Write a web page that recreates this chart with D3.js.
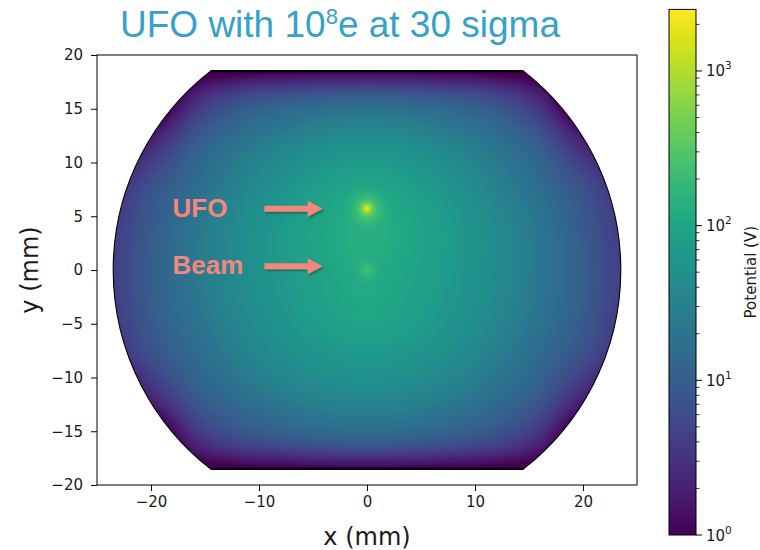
<!DOCTYPE html>
<html>
<head>
<meta charset="utf-8">
<script src="https://cdn.jsdelivr.net/npm/d3@7"></script>
<style>
  body { margin: 0; background: #fff; }
  svg { display: block; }
</style>
</head>
<body>
<svg id="chart" width="760" height="550"></svg>
<script>
// ---- data -------------------------------------------------------------
// Sample grid of the electric potential (V) inside the beam pipe, in mm.
const gridX = [-24, -20, -16, -12, -8, -4, 0, 4, 8, 12, 16, 20, 24];
const gridY = [20, 16, 12, 8, 4, 0, -4, -8, -12, -16, -20];
const potentialGrid = [
  [0.3, 0.3, 0.3, 0.3, 0.3, 0.3, 0.3, 0.3, 0.3, 0.3, 0.3, 0.3, 0.3],
  [0.3, 0.3, 2.2, 5.5, 8, 10, 11, 10, 8, 5.5, 2.2, 0.3, 0.3],
  [0.5, 2.0, 8.5, 18, 29, 41, 47, 41, 29, 18, 8.5, 2.0, 0.5],
  [2.4, 6.5, 15, 30, 52, 78, 98, 78, 52, 30, 15, 6.5, 2.4],
  [3.6, 8.8, 21, 40, 68, 102, 135, 102, 68, 40, 21, 8.8, 3.6],
  [4, 9.8, 22, 41, 67, 95, 120, 95, 67, 41, 22, 9.8, 4],
  [3.6, 9.1, 20, 37, 58, 84, 102, 84, 58, 37, 20, 9.1, 3.6],
  [2.4, 6.5, 14, 27, 43, 59, 68, 59, 43, 27, 14, 6.5, 2.4],
  [0.5, 2.0, 8, 15.5, 24, 32, 35, 32, 24, 15.5, 8, 2.0, 0.5],
  [0.3, 0.3, 2.2, 5, 7, 8.8, 9.4, 8.8, 7, 5, 2.2, 0.3, 0.3],
  [0.3, 0.3, 0.3, 0.3, 0.3, 0.3, 0.3, 0.3, 0.3, 0.3, 0.3, 0.3, 0.3]
];

// Point-like charges: centre (mm) and extra potential vs radius (mm -> V)
const sourceNames = ["UFO", "Beam"];
const sourceX = [0, 0];
const sourceY = [5.7, 0];
const sourceProfileR = [[0, 0.25, 0.5, 0.9, 1.5, 2.2], [0, 0.4, 0.8, 1.3]];
const sourceProfileV = [[2400, 800, 300, 100, 30, 0], [110, 60, 25, 0]];

// Chamber geometry (mm)
const chamberRadius = 23.5;
const chamberHalfHeight = 18.5;

// Axes / colour bar
const xTicks = [-20, -10, 0, 10, 20];
const yTicks = [-20, -15, -10, -5, 0, 5, 10, 15, 20];
const cbMajor = [1, 10, 100, 1000];
const cbMinor = [2,3,4,5,6,7,8,9,20,30,40,50,60,70,80,90,200,300,400,500,600,700,800,900,2000];
const vMin = 1, vMax = 2500;

// Annotations: arrow y (mm), arrow start/end x (mm)
const annotLabels = ["UFO", "Beam"];
const annotY = [5.7, 0.35];
const annotX0 = -9.5, annotX1 = -4.1, annotTextX = -18.0;

// ---- scales -----------------------------------------------------------
const svg = d3.select("#chart");
const x = d3.scaleLinear().domain([-25, 25]).range([97, 637]);
const y = d3.scaleLinear().domain([-20, 20]).range([485, 55]);
const color = d3.scaleSequentialLog(d3.interpolateViridis).domain([vMin, vMax]).clamp(true);

// ---- heat map ---------------------------------------------------------
const logGrid = potentialGrid.map(r => r.map(v => Math.log10(v)));
function cr(p0, p1, p2, p3, t) {
  return p1 + 0.5 * t * (p2 - p0 + t * (2 * p0 - 5 * p1 + 4 * p2 - p3 + t * (3 * (p1 - p2) + p3 - p0)));
}
const nx = gridX.length, ny = gridY.length;
const dxg = gridX[1] - gridX[0], dyg = gridY[0] - gridY[1];
function gv(j, i) {
  j = Math.max(0, Math.min(ny - 1, j));
  i = Math.max(0, Math.min(nx - 1, i));
  return logGrid[j][i];
}
function sampleLog(mx, my) {
  const gx = (mx - gridX[0]) / dxg, gy = (gridY[0] - my) / dyg;
  const i = Math.floor(gx), j = Math.floor(gy);
  const tx = gx - i, ty = gy - j;
  const rows = [];
  for (let k = -1; k <= 2; k++) {
    rows.push(cr(gv(j + k, i - 1), gv(j + k, i), gv(j + k, i + 1), gv(j + k, i + 2), tx));
  }
  return cr(rows[0], rows[1], rows[2], rows[3], ty);
}
const profiles = sourceNames.map((n, k) =>
  d3.scaleLinear().domain(sourceProfileR[k]).range(sourceProfileV[k]).clamp(true));

const logMin = Math.log10(vMin), logMax = Math.log10(vMax);
const lut = d3.range(256).map(k => d3.rgb(color(Math.pow(10, logMin + (k / 255) * (logMax - logMin)))));

const px0 = Math.round(x(-25)), px1 = Math.round(x(25));
const py0 = Math.round(y(20)), py1 = Math.round(y(-20));
const cw = px1 - px0, ch = py1 - py0;
const canvas = document.createElement("canvas");
canvas.width = cw; canvas.height = ch;
const ctx = canvas.getContext("2d");
const img = ctx.createImageData(cw, ch);
for (let r = 0; r < ch; r++) {
  const my = y.invert(py0 + r + 0.5);
  for (let c = 0; c < cw; c++) {
    const mx = x.invert(px0 + c + 0.5);
    let v = Math.pow(10, sampleLog(mx, my));
    for (let k = 0; k < sourceNames.length; k++) {
      v += profiles[k](Math.hypot(mx - sourceX[k], my - sourceY[k]));
    }
    let t = (Math.log10(v) - logMin) / (logMax - logMin);
    t = Math.max(0, Math.min(1, t));
    const col = lut[Math.round(t * 255)];
    const o = (r * cw + c) * 4;
    img.data[o] = col.r; img.data[o + 1] = col.g; img.data[o + 2] = col.b; img.data[o + 3] = 255;
  }
}
ctx.putImageData(img, 0, 0);

const defs = svg.append("defs");

// chamber outline: flat top/bottom joined by circular arcs
const xc = Math.sqrt(chamberRadius * chamberRadius - chamberHalfHeight * chamberHalfHeight);
const rx = x(chamberRadius) - x(0), ry = y(0) - y(chamberRadius);
const chamberPath =
  `M${x(-xc)},${y(chamberHalfHeight)} L${x(xc)},${y(chamberHalfHeight)} ` +
  `A${rx},${ry} 0 0 1 ${x(xc)},${y(-chamberHalfHeight)} ` +
  `L${x(-xc)},${y(-chamberHalfHeight)} ` +
  `A${rx},${ry} 0 0 1 ${x(-xc)},${y(chamberHalfHeight)} Z`;

defs.append("clipPath").attr("id", "chamber").append("path").attr("d", chamberPath);

svg.append("image")
  .attr("x", px0).attr("y", py0).attr("width", cw).attr("height", ch)
  .attr("preserveAspectRatio", "none")
  .attr("href", canvas.toDataURL())
  .attr("clip-path", "url(#chamber)");

svg.append("path").attr("d", chamberPath)
  .attr("fill", "none").attr("stroke", "#000").attr("stroke-width", 1.1);
[chamberHalfHeight, -chamberHalfHeight].forEach(h => {
  svg.append("line")
    .attr("x1", x(-xc)).attr("x2", x(xc)).attr("y1", y(h)).attr("y2", y(h))
    .attr("stroke", "#000").attr("stroke-width", 2.2);
});

// ---- axes -------------------------------------------------------------
const tickFont = "'DejaVu Sans', sans-serif";
const gx = svg.append("g").attr("transform", `translate(0,${y(-20)})`)
  .call(d3.axisBottom(x).tickValues(xTicks).tickSize(6).tickPadding(5));
const gy = svg.append("g").attr("transform", `translate(${x(-25)},0)`)
  .call(d3.axisLeft(y).tickValues(yTicks).tickSize(6).tickPadding(8));
[gx, gy].forEach(g => {
  g.select(".domain").remove();
  g.selectAll(".tick line").attr("stroke", "#000").attr("stroke-width", 1);
  g.selectAll(".tick text").attr("font-family", tickFont).attr("font-size", 15).attr("fill", "#1a1a1a");
});
svg.append("rect")
  .attr("x", x(-25)).attr("y", y(20))
  .attr("width", x(25) - x(-25)).attr("height", y(-20) - y(20))
  .attr("fill", "none").attr("stroke", "#000").attr("stroke-width", 1);

svg.append("text")
  .attr("x", (x(-25) + x(25)) / 2).attr("y", 545)
  .attr("text-anchor", "middle")
  .attr("font-family", tickFont).attr("font-size", 24).attr("fill", "#1a1a1a")
  .text("x (mm)");
svg.append("text")
  .attr("transform", `translate(38,${(y(20) + y(-20)) / 2}) rotate(-90)`)
  .attr("text-anchor", "middle")
  .attr("font-family", tickFont).attr("font-size", 24).attr("fill", "#1a1a1a")
  .text("y (mm)");

// ---- title ------------------------------------------------------------
const title = svg.append("text")
  .attr("x", 120).attr("y", 37)
  .attr("font-family", "'Liberation Sans', Arial, sans-serif")
  .attr("font-size", 37).attr("fill", "#36a1c9");
title.append("tspan").text("UFO with 10");
title.append("tspan").attr("font-size", 22).attr("dy", -13).text("8");
title.append("tspan").attr("dy", 13).text("e at 30 sigma");

// ---- annotations ------------------------------------------------------
const salmon = "#f4877b";
const shadow = defs.append("filter").attr("id", "shadow")
  .attr("x", "-20%").attr("y", "-50%").attr("width", "140%").attr("height", "200%");
shadow.append("feDropShadow").attr("dx", 1.5).attr("dy", 1.5)
  .attr("stdDeviation", 1).attr("flood-color", "#000").attr("flood-opacity", 0.35);

annotLabels.forEach((lab, k) => {
  const ay = y(annotY[k]);
  const ax0 = x(annotX0), ax1 = x(annotX1);
  const head = 15, half = 8, shaft = 3;
  svg.append("path")
    .attr("d", `M${ax0},${ay - shaft} L${ax1 - head},${ay - shaft} L${ax1 - head},${ay - half} ` +
               `L${ax1},${ay} L${ax1 - head},${ay + half} L${ax1 - head},${ay + shaft} L${ax0},${ay + shaft} Z`)
    .attr("fill", salmon)
    .attr("filter", "url(#shadow)");
  svg.append("text")
    .attr("x", x(annotTextX)).attr("y", ay + 8)
    .attr("font-family", "'Liberation Sans', Arial, sans-serif")
    .attr("font-weight", "bold").attr("font-size", 26)
    .attr("fill", salmon)
    .text(lab);
});

// ---- colour bar -------------------------------------------------------
const cbX = 669, cbW = 27;
const cb = d3.scaleLog().domain([vMin, vMax]).range([535, 9.4]);
const grad = defs.append("linearGradient").attr("id", "cbgrad")
  .attr("x1", 0).attr("y1", 1).attr("x2", 0).attr("y2", 0);
d3.range(0, 1.0001, 0.05).forEach(t => {
  grad.append("stop").attr("offset", t).attr("stop-color", d3.interpolateViridis(t));
});
svg.append("rect")
  .attr("x", cbX).attr("y", cb(vMax)).attr("width", cbW).attr("height", cb(vMin) - cb(vMax))
  .attr("fill", "url(#cbgrad)").attr("stroke", "#000").attr("stroke-width", 1);

svg.selectAll(".cbminor").data(cbMinor).enter().append("line")
  .attr("x1", cbX + cbW).attr("x2", cbX + cbW + 3.5)
  .attr("y1", d => cb(d)).attr("y2", d => cb(d))
  .attr("stroke", "#000").attr("stroke-width", 0.8);
svg.selectAll(".cbmajor").data(cbMajor).enter().append("line")
  .attr("x1", cbX + cbW).attr("x2", cbX + cbW + 6)
  .attr("y1", d => cb(d)).attr("y2", d => cb(d))
  .attr("stroke", "#000").attr("stroke-width", 1);
const cbl = svg.selectAll(".cblab").data(cbMajor).enter().append("text")
  .attr("x", cbX + cbW + 10).attr("y", d => cb(d) + 5.5)
  .attr("font-family", tickFont).attr("font-size", 15).attr("fill", "#1a1a1a");
cbl.append("tspan").text("10");
cbl.append("tspan").attr("font-size", 10.5).attr("dy", -7).text(d => Math.round(Math.log10(d)));

svg.append("text")
  .attr("transform", `translate(756,${(cb(vMin) + cb(vMax)) / 2}) rotate(-90)`)
  .attr("text-anchor", "middle")
  .attr("font-family", tickFont).attr("font-size", 15).attr("fill", "#1a1a1a")
  .text("Potential (V)");
</script>
</body>
</html>
